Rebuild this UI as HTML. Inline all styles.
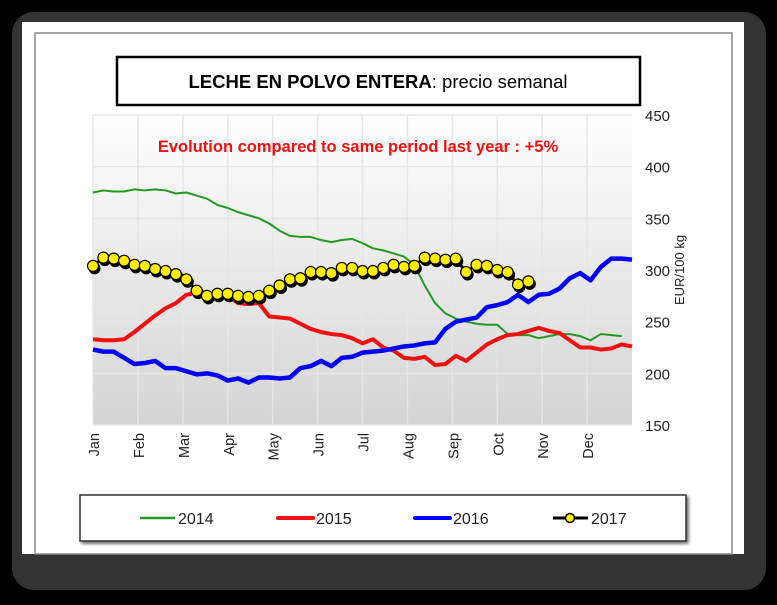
<!DOCTYPE html>
<html><head><meta charset="utf-8"><style>
body{margin:0;background:#000;width:777px;height:600px;overflow:hidden;font-family:"Liberation Sans",sans-serif}
</style></head><body>
<svg id="chart" width="777" height="600" xmlns="http://www.w3.org/2000/svg">
<defs>
<linearGradient id="bg" x1="0" y1="0" x2="0" y2="1"><stop offset="0" stop-color="#ffffff"/><stop offset="1" stop-color="#d4d4d4"/></linearGradient>
<filter id="sh"><feDropShadow dx="2" dy="2" stdDeviation="1.5" flood-color="#000" flood-opacity="0.6"/></filter>
</defs>
<rect x="12" y="12" width="754" height="578" rx="22" fill="#333"/>
<rect x="22" y="22" width="722" height="532" fill="#fff"/>
<rect x="35" y="33" width="697" height="521" fill="none" stroke="#888" stroke-width="1.5"/>
<rect x="117" y="57" width="523" height="48" fill="#fff" stroke="#000" stroke-width="2.5"/>
<text x="378" y="88" text-anchor="middle" font-size="18.5"><tspan font-weight="bold">LECHE EN POLVO ENTERA</tspan>: precio semanal</text>
<rect x="93" y="115" width="539" height="310" fill="url(#bg)"/>
<g id="grid"></g>
<g id="axes"></g>
<text x="358" y="152" text-anchor="middle" font-size="16.5" font-weight="bold" fill="#f01010">Evolution compared to same period last year : +5%</text>
<text transform="translate(684,270) rotate(-90)" text-anchor="middle" font-size="13" fill="#222">EUR/100 kg</text>
<g id="series"></g>
<rect x="80" y="495" width="606" height="46" fill="#fff" stroke="#333" stroke-width="1.5" filter="url(#sh)"/>
<g><line x1="140" y1="518" x2="175" y2="518" stroke="#229922" stroke-width="2.5"/><text x="178" y="524" font-size="16" fill="#222">2014</text></g>
<g><line x1="278" y1="518" x2="313" y2="518" stroke="#f01010" stroke-width="4" stroke-linecap="round"/><text x="316" y="524" font-size="16" fill="#222">2015</text></g>
<g><line x1="415" y1="518" x2="450" y2="518" stroke="#0000ff" stroke-width="4" stroke-linecap="round"/><text x="453" y="524" font-size="16" fill="#222">2016</text></g>
<g><line x1="553" y1="518" x2="588" y2="518" stroke="#000" stroke-width="3"/><circle cx="570" cy="518" r="4.5" fill="#ffee00" stroke="#000" stroke-width="1.5"/><text x="591" y="524" font-size="16" fill="#222">2017</text></g>
</svg>
<script>
const months=["Jan","Feb","Mar","Apr","May","Jun","Jul","Aug","Sep","Oct","Nov","Dec"];
const yTicks=[150,200,250,300,350,400,450];
const s2014=[375,377,376,376,378,377,378,377,374,375,372,369,363,360,356,353,350,345,338,333,332,332,329,327,329,330,326,321,319,316,313,305,285,268,258,253,250,248,247,247,238,237,237,234,236,238,238,236,232,238,237,236];
const s2015=[233,232,232,233,240,248,256,263,268,276,278,273,272,275,268,267,268,255,254,253,248,243,240,238,237,234,229,233,225,222,215,214,216,208,209,217,212,220,228,233,237,238,241,244,241,239,232,225,225,223,224,228,226];
const s2016=[223,221,221,215,209,210,212,205,205,202,199,200,198,193,195,191,196,196,195,196,205,207,212,207,215,216,220,221,222,224,226,227,229,230,243,250,252,254,264,266,269,276,269,276,277,282,292,297,290,303,311,311,310];
const s2017=[304,312,311,309,305,304,301,299,296,291,280,275,277,277,275,274,275,280,285,291,292,298,298,297,302,302,299,299,302,305,303,304,312,311,310,311,298,305,304,300,298,286,289];
const X0=93,X1=632,Y0=425,Y1=115,WEEKS=52;
const xw=i=>X0+i*(X1-X0)/WEEKS;
const yv=v=>Y0-(v-150)*(Y0-Y1)/300;
const NS="http://www.w3.org/2000/svg";
const mk=(t,a,p)=>{const e=document.createElementNS(NS,t);for(const k in a)e.setAttribute(k,a[k]);p.appendChild(e);return e;};
const grid=document.getElementById('grid'),axes=document.getElementById('axes'),ser=document.getElementById('series');
yTicks.forEach(v=>{
  const l=mk('line',{x1:X0,x2:X1,y1:yv(v),y2:yv(v),stroke:'#e6e6e6','stroke-width':1.5},grid);
  
  
  const t=mk('text',{x:645,y:yv(v)+6,'font-size':15,fill:'#222'},axes);
  t.textContent=v;
  
  
});
months.forEach((m,i)=>{
  const x=X0+i*(X1-X0)/12;
  const l=mk('line',{x1:x,x2:x,y1:Y1,y2:Y0,stroke:'#e6e6e6','stroke-width':1.5},grid);
  
  
  const t=mk('text',{transform:`translate(${x+6},${Y0+8}) rotate(-90)`,'text-anchor':'end','font-size':14.5,fill:'#222'},axes);
  t.textContent=m;
  
  
});
function line(data,color,w,name){
  const p=mk('polyline',{points:data.map((v,i)=>xw(i)+','+yv(v)).join(' '),fill:'none',stroke:color,'stroke-width':w,'stroke-linejoin':'round'},ser);
  
  
}
line(s2014,'#229922',2,'series-2014');
line(s2015,'#f01010',4,'series-2015');
line(s2016,'#0000ff',4.5,'series-2016');
line(s2017,'#000',3,'series-2017');
s2017.forEach((v,i)=>{
  const c=mk('circle',{cx:xw(i)+1.5,cy:yv(v)+2.5,r:6,fill:'#000'},ser);
  
  
  const d=mk('circle',{cx:xw(i),cy:yv(v),r:5.5,fill:'#ffee00',stroke:'#000','stroke-width':1.2},ser);
  
  
});
</script>
</body></html>
